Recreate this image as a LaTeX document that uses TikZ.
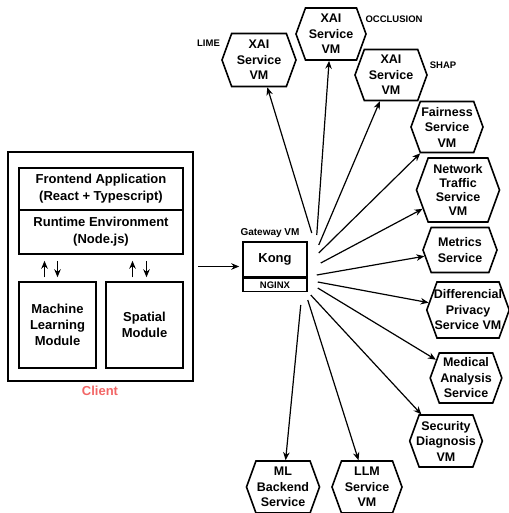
\documentclass[tikz,border=0pt]{standalone}
\usepackage{fontspec}
\setmainfont{Liberation Sans}
\usetikzlibrary{arrows.meta,shapes.symbols}
\definecolor{clientred}{RGB}{242,102,102}
\begin{document}
\begin{tikzpicture}[x=1pt,y=1pt]
    \tikzstyle{every node}+=[inner sep=0pt, align=center, font=\bfseries]
    \tikzstyle{box}=[draw, line width=1.5pt]
    \tikzstyle{hex}=[draw, line width=1.6pt, signal, signal to=east and west, signal pointer angle=140, inner sep=1pt, font=\bfseries\fontsize{12.5}{15.5}\selectfont]
    \tikzstyle{tag}=[font=\bfseries\fontsize{9.5}{11}\selectfont]
    \tikzstyle{arr}=[line width=1.2pt, -{Stealth[length=8pt,width=6.5pt]}]
    \useasboundingbox (0,0) rectangle (508,-513);
    \node [box, line width=2pt, minimum width=185, minimum height=229] (client) at (100.5,-266.5) {};
    \node [box, minimum width=164, minimum height=42, font=\bfseries\fontsize{13}{17}\selectfont] (frontend) at (101,-189) {Frontend Application\\(React + Typescript)};
    \node [box, minimum width=164, minimum height=44, font=\bfseries\fontsize{13}{17}\selectfont] (runtime) at (101,-232) {Runtime Environment\\(Node.js)};
    \node [box, minimum width=77, minimum height=86, font=\bfseries\fontsize{13}{16}\selectfont] (ml) at (57.5,-325) {Machine\\Learning\\Module};
    \node [box, minimum width=77, minimum height=86, font=\bfseries\fontsize{13}{16}\selectfont] (spatial) at (144.5,-325) {Spatial\\Module};
    \node [font=\bfseries\fontsize{13}{15}\selectfont, text=clientred] (clientlabel) at (100,-390.5) {Client};
    \draw [arr, shorten <=4pt, shorten >=6pt] ([xshift=-13pt]ml.north) -- ([xshift=-13pt]ml.north |- runtime.south);
    \draw [arr, shorten <=6pt, shorten >=4pt] (ml.north |- runtime.south) -- (ml.north);
    \draw [arr, shorten <=4pt, shorten >=6pt] ([xshift=-12pt]spatial.north) -- ([xshift=-12pt]spatial.north |- runtime.south);
    \draw [arr, shorten <=6pt, shorten >=4pt] ([xshift=2pt]spatial.north |- runtime.south) -- ([xshift=2pt]spatial.north);
    \node [box, minimum width=64, minimum height=35, font=\bfseries\fontsize{13}{15}\selectfont] (kong) at (275,-259.5) {Kong};
    \node [box, minimum width=64, minimum height=13, anchor=north, font=\bfseries\fontsize{9.5}{11}\selectfont] (nginx) at (kong.south) {NGINX};
    \node [font=\bfseries\fontsize{10}{12}\selectfont] (gwlabel) at (270,-233) {Gateway VM};
    \draw [arr, shorten <=4pt, shorten >=3pt] (client.east) -- (client.east -| kong.west);
    \node [hex, minimum width=74, minimum height=53] (lime) at (259,-60) {XAI\\Service\\VM};
    \node [hex, minimum width=70, minimum height=52] (occlusion) at (331,-34) {XAI\\Service\\VM};
    \node [hex, minimum width=72, minimum height=51] (shap) at (391,-75) {XAI\\Service\\VM};
    \node [tag] (limelabel) at (208.5,-43) {LIME};
    \node [tag] (occlusionlabel) at (394,-19) {OCCLUSION};
    \node [tag] (shaplabel) at (443,-65) {SHAP};
    \node [hex, minimum width=72, minimum height=51] (fairness) at (447,-127) {Fairness\\Service\\VM};
    \node [hex, minimum width=83, minimum height=64, font=\bfseries\fontsize{12.5}{14}\selectfont] (network) at (458,-190) {Network\\Traffic\\Service\\VM};
    \node [hex, minimum width=74, minimum height=45] (metrics) at (460,-250) {Metrics\\Service};
    \node [hex, minimum width=80, minimum height=56, inner xsep=-3pt] (privacy) at (468,-310) {Differencial\\Privacy\\Service VM};
    \node [hex, minimum width=67, minimum height=50] (medical) at (466,-378) {Medical\\Analysis\\Service};
    \node [hex, minimum width=68, minimum height=52, inner xsep=-3pt] (security) at (446,-441) {Security\\Diagnosis\\VM};
    \node [hex, minimum width=73, minimum height=52] (mlbackend) at (283,-487) {ML\\Backend\\Service};
    \node [hex, minimum width=70, minimum height=52] (llm) at (367,-487) {LLM\\Service\\VM};
    \draw [arr] ([shift={(4,26.5)}]kong.east) -- (lime);
    \draw [arr] ([shift={(9,24.5)}]kong.east) -- (occlusion);
    \draw [arr] ([shift={(11,14.5)}]kong.east) -- (shap);
    \draw [arr] ([shift={(11,6.5)}]kong.east) -- (fairness);
    \draw [arr] ([shift={(13,-3.5)}]kong.east) -- (network);
    \draw [arr] ([shift={(9,-15.5)}]kong.east) -- (metrics);
    \draw [arr] ([shift={(10,-22.5)}]kong.east) -- (privacy);
    \draw [arr] ([shift={(10,-28.5)}]kong.east) -- (medical);
    \draw [arr] ([shift={(3,-35.5)}]kong.east) -- (security);
    \draw [arr] ([shift={(0,-40.5)}]kong.east) -- (llm);
    \draw [arr] ([shift={(-7,-45.5)}]kong.east) -- (mlbackend);
\end{tikzpicture}
\end{document}
